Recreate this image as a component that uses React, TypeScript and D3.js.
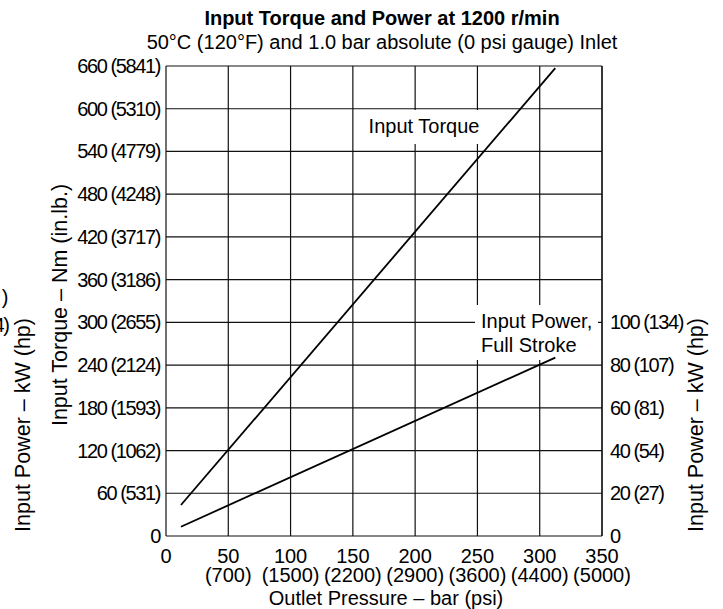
import React, { useEffect, useRef } from "react";
import * as d3 from "d3";

// outlet pressure axis (bar) with psi equivalents underneath
const pressureTicks = [0, 50, 100, 150, 200, 250, 300, 350];
const psiLabels = ["", "(700)", "(1500)", "(2200)", "(2900)", "(3600)", "(4400)", "(5000)"];

// left axis: torque Nm (in.lb.)
const torqueTicks = [0, 60, 120, 180, 240, 300, 360, 420, 480, 540, 600, 660];
const inLbLabels = ["", "(531)", "(1062)", "(1593)", "(2124)", "(2655)", "(3186)", "(3717)", "(4248)", "(4779)", "(5310)", "(5841)"];

// right axis: power kW (hp)
const powerTicks = [0, 20, 40, 60, 80, 100];
const hpLabels = ["", "(27)", "(54)", "(81)", "(107)", "(134)"];

// straight lines, end points
const linePressure = [12, 312.5];
const torqueNm = [43.5, 657];
const powerKw = [4.35, 83.5];

const FONT = "'Liberation Sans', Arial, Helvetica, sans-serif";
const INK = "#111";

export default function App() {
  const svgRef = useRef<SVGSVGElement>(null);
  const width = 723;
  const height = 609;

  useEffect(() => {
    if (!svgRef.current) return;
    const svg = d3.select(svgRef.current);
    svg.selectAll("*").remove();

    const plot = { left: 166, right: 602, top: 66, bottom: 536 };

    const x = d3.scaleLinear().domain([0, 350]).range([plot.left, plot.right]);
    const yT = d3.scaleLinear().domain([0, 660]).range([plot.bottom, plot.top]);
    // 100 kW sits on the 300 Nm line
    const yP = d3.scaleLinear().domain([0, 220]).range([plot.bottom, plot.top]);

    svg.append("rect").attr("width", width).attr("height", height).attr("fill", "#fff");

    const g = svg.append("g");

    // grid
    g.selectAll(".vgrid")
      .data(pressureTicks)
      .enter()
      .append("line")
      .attr("x1", d => x(d))
      .attr("x2", d => x(d))
      .attr("y1", plot.top)
      .attr("y2", plot.bottom)
      .attr("stroke", INK)
      .attr("stroke-width", 1.2);

    g.selectAll(".hgrid")
      .data(torqueTicks)
      .enter()
      .append("line")
      .attr("x1", plot.left)
      .attr("x2", plot.right)
      .attr("y1", d => yT(d))
      .attr("y2", d => yT(d))
      .attr("stroke", INK)
      .attr("stroke-width", 1.2);

    // white patches behind the in-plot labels
    g.append("rect")
      .attr("x", 360).attr("y", 110).attr("width", 128).attr("height", 34)
      .attr("fill", "#fff");
    g.append("rect")
      .attr("x", 475).attr("y", 305).attr("width", 123).attr("height", 55)
      .attr("fill", "#fff");
    // keep the right frame whole
    g.append("line")
      .attr("x1", plot.right).attr("x2", plot.right)
      .attr("y1", plot.top).attr("y2", plot.bottom)
      .attr("stroke", INK).attr("stroke-width", 1.2);

    // data lines
    const torqueLine = d3.line<number>()
      .x((_, i) => x(linePressure[i]))
      .y(d => yT(d));
    const powerLine = d3.line<number>()
      .x((_, i) => x(linePressure[i]))
      .y(d => yP(d));

    g.append("path")
      .datum(torqueNm)
      .attr("fill", "none")
      .attr("stroke", "#000")
      .attr("stroke-width", 1.8)
      .attr("d", torqueLine);

    g.append("path")
      .datum(powerKw)
      .attr("fill", "none")
      .attr("stroke", "#000")
      .attr("stroke-width", 1.8)
      .attr("d", powerLine);

    const txt = svg.append("g")
      .attr("font-family", FONT)
      .attr("fill", "#000");

    // left tick labels (condensed)
    txt.selectAll(".ltick")
      .data(torqueTicks)
      .enter()
      .append("text")
      .attr("x", 160)
      .attr("y", d => yT(d) + 7)
      .attr("text-anchor", "end")
      .attr("font-size", 20)
      .attr("letter-spacing", -1.4)
      .text((d, i) => (inLbLabels[i] ? `${d} ${inLbLabels[i]}` : `${d}`));

    // right tick labels
    txt.selectAll(".rtick")
      .data(powerTicks)
      .enter()
      .append("text")
      .attr("x", 610)
      .attr("y", d => yP(d) + 7)
      .attr("font-size", 20)
      .attr("letter-spacing", -1.4)
      .text((d, i) => (hpLabels[i] ? `${d} ${hpLabels[i]}` : `${d}`));

    // bottom tick labels
    txt.selectAll(".btick")
      .data(pressureTicks)
      .enter()
      .append("text")
      .attr("x", d => x(d))
      .attr("y", 563)
      .attr("text-anchor", "middle")
      .attr("font-size", 20)
      .text(d => d);

    txt.selectAll(".bpsi")
      .data(pressureTicks)
      .enter()
      .append("text")
      .attr("x", d => x(d))
      .attr("y", 582)
      .attr("text-anchor", "middle")
      .attr("font-size", 20)
      .text((_, i) => psiLabels[i]);

    // titles
    txt.append("text")
      .attr("x", 382).attr("y", 25)
      .attr("text-anchor", "middle")
      .attr("font-size", 20)
      .attr("font-weight", "bold")
      .text("Input Torque and Power at 1200 r/min");
    txt.append("text")
      .attr("x", 382).attr("y", 49)
      .attr("text-anchor", "middle")
      .attr("font-size", 20)
      .text("50°C (120°F) and 1.0 bar absolute (0 psi gauge) Inlet");

    txt.append("text")
      .attr("x", 386).attr("y", 605)
      .attr("text-anchor", "middle")
      .attr("font-size", 20)
      .text("Outlet Pressure – bar (psi)");

    // rotated axis titles
    const vTitle = (cx: number, cy: number, label: string) =>
      txt.append("text")
        .attr("transform", `translate(${cx},${cy}) rotate(-90)`)
        .attr("text-anchor", "middle")
        .attr("font-size", 21.5)
        .text(label);
    vTitle(30, 425, "Input Power – kW (hp)");
    vTitle(67, 305, "Input Torque – Nm (in.lb.)");
    vTitle(703, 425, "Input Power – kW (hp)");

    // clipped label remnants at the far left edge
    txt.append("text")
      .attr("x", 8.5).attr("y", 304)
      .attr("text-anchor", "end")
      .attr("font-size", 20)
      .text(")");
    txt.append("text")
      .attr("x", 8.5).attr("y", 332)
      .attr("text-anchor", "end")
      .attr("font-size", 20)
      .attr("letter-spacing", -1.4)
      .text("4)");

    // in-plot labels
    txt.append("text")
      .attr("x", 424).attr("y", 133)
      .attr("text-anchor", "middle")
      .attr("font-size", 20)
      .text("Input Torque");
    txt.append("text")
      .attr("x", 481).attr("y", 328)
      .attr("font-size", 20)
      .text("Input Power,");
    txt.append("text")
      .attr("x", 481).attr("y", 352)
      .attr("font-size", 20)
      .text("Full Stroke");
  }, []);

  return (
    <div style={{ position: "absolute", left: 0, top: 0 }}>
      <svg ref={svgRef} width={width} height={height} style={{ display: "block" }} />
    </div>
  );
}
